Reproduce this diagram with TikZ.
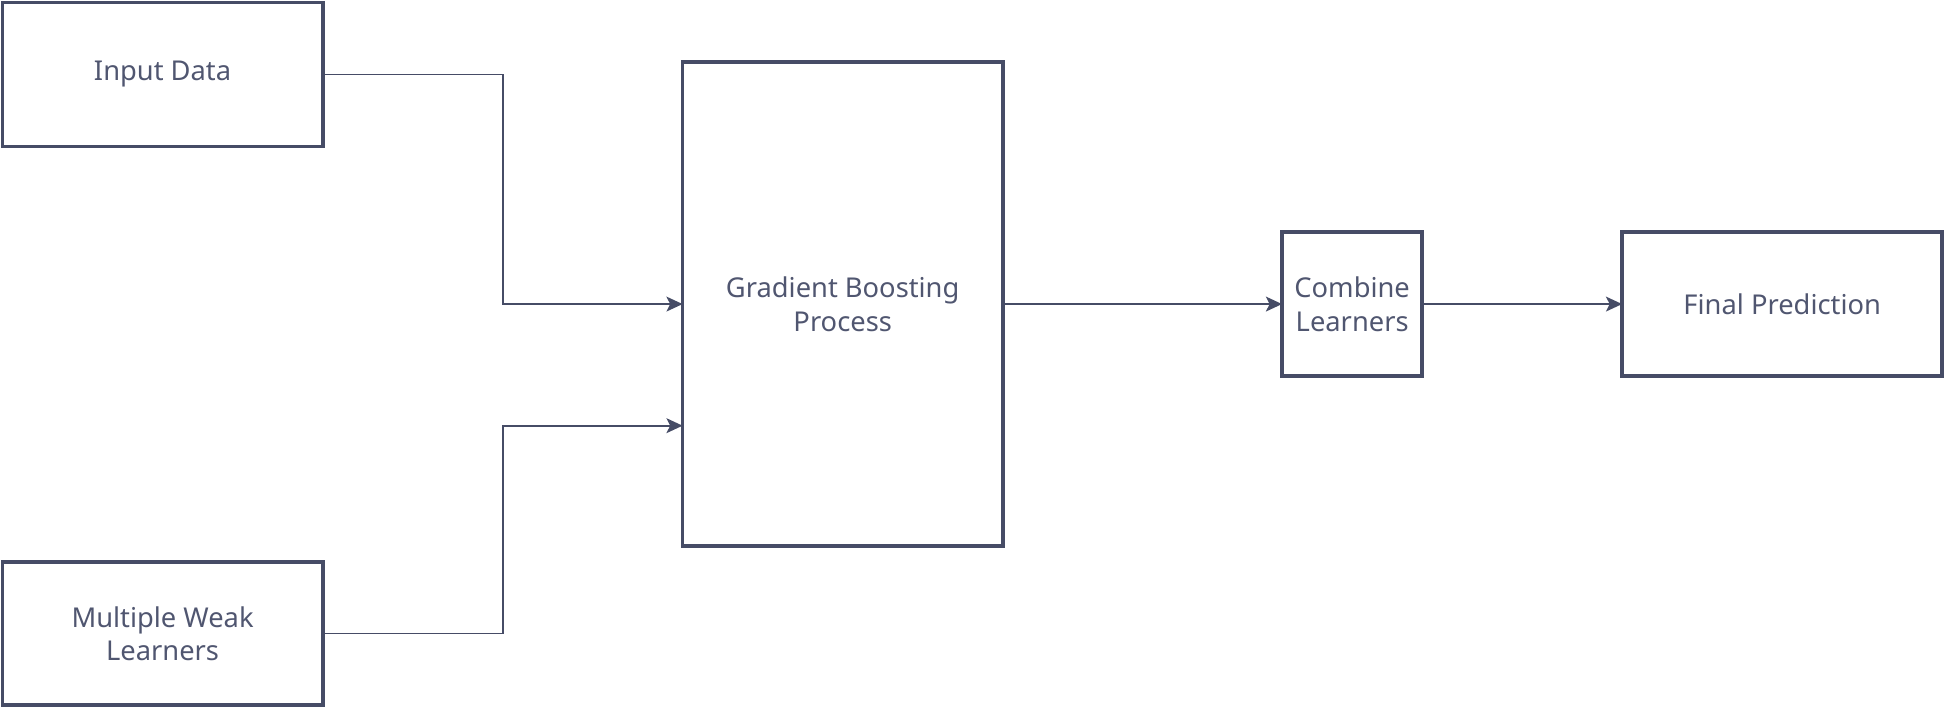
\documentclass[tikz,border=0pt]{standalone}
\usepackage{fontspec}
\setmainfont{Noto Sans}
\usetikzlibrary{positioning,arrows.meta}
\definecolor{ink}{RGB}{70,76,102}
\definecolor{inktext}{RGB}{80,86,112}

\begin{document}
\begin{tikzpicture}[x=1pt, y=-1pt, node distance = 410pt, auto,
	block/.style={draw=ink, line width=3pt, text=inktext, inner sep=0pt, outer sep=0pt,
		minimum width=258pt, minimum height=116pt, align=center,
		font=\fontsize{22}{27}\selectfont},
	flow/.style={draw=ink, line width=1.4pt, -{Stealth[length=13pt,width=12pt,inset=3pt]}}]
	\useasboundingbox (0,0) rectangle (1568,570.4);

	\node[block, minimum height=390pt] (gbp) at (679,245) {Gradient Boosting\\Process};

	\node[block] (input) at (131,60) {Input Data};
    \draw[flow] (input.east) -- ++(145,0) |- (gbp.west);
	\node[block, minimum height=115pt] (weak) at (131,510.5) {Multiple Weak\\Learners};
    \coordinate (gbplow) at ([yshift=-98pt]gbp.west);
    \draw[flow] (weak.east) -- ++(145,0) |- (gbplow);

	\node[block, minimum width=113pt, right of=gbp, node distance=410.5pt] (combine) {Combine\\Learners};
    \draw[flow] (gbp.east) -- (combine.west);
	\node[block, right of=combine, node distance=346.5pt] (final) {Final Prediction};
    \draw[flow] (combine.east) -- (final.west);
\end{tikzpicture}
\end{document}
